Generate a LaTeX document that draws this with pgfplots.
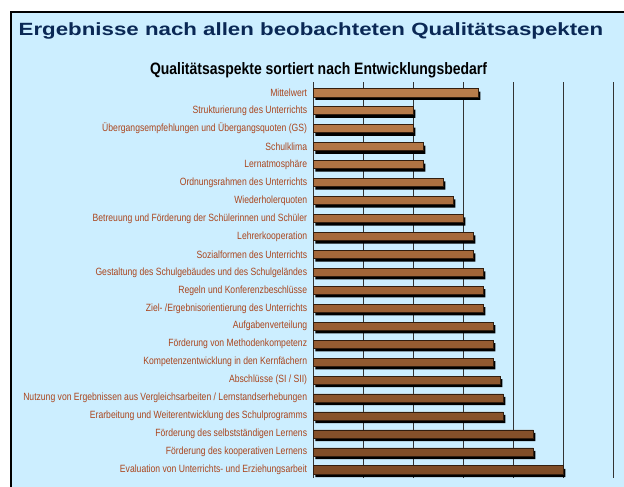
\documentclass[border=0pt]{standalone}
\usepackage{pgfplots}
\pgfplotsset{compat=1.18}
\usepackage{fontspec}
\usepackage{graphicx}
\setmainfont{Liberation Sans}
\newfontfamily\labfont[FakeStretch=0.82]{Liberation Sans}
\definecolor{panel}{RGB}{204,238,255}
\definecolor{labc}{RGB}{170,70,30}
\definecolor{titc}{RGB}{10,40,85}
\definecolor{woodtop}{RGB}{185,125,75}
\definecolor{woodmid}{RGB}{160,100,55}
\definecolor{woodbot}{RGB}{125,75,38}
\definecolor{woodedge}{RGB}{50,30,15}
\begin{document}
\begin{tikzpicture}
\useasboundingbox (0pt,0pt) rectangle (624pt,487pt);
\fill[white] (0pt,0pt) rectangle (624pt,487pt);
\fill[panel] (11pt,0pt) rectangle (624pt,475pt);
\draw[black, line width=2pt] (11pt,0pt) -- (11pt,475pt) -- (625pt,475pt);
\node[anchor=base west, text=titc, font=\bfseries\fontsize{17.7}{20}\selectfont, inner sep=0pt] at (18.5pt,451pt) {\resizebox{584.5pt}{\height}{Ergebnisse nach allen beobachteten Qualitätsaspekten}};
\node[anchor=base, font=\bfseries\fontsize{16.5}{18}\selectfont, inner sep=0pt] at (318.5pt,412.5pt) {\resizebox{337pt}{\height}{Qualitätsaspekte sortiert nach Entwicklungsbedarf}};
\begin{axis}[
  at={(313.3pt,9pt)}, anchor=south west,
  width=300pt, height=396pt, scale only axis,
  xmin=0, xmax=6, ymin=-0.6, ymax=21.45, y dir=reverse,
  xtick={0,1,2,3,4,5,6}, xticklabels={},
  xmajorgrids, major grid style={black!80, line width=0.8pt},
  ytick={0,...,21},
  yticklabels={
    Mittelwert,
    Strukturierung des Unterrichts,
    Übergangsempfehlungen und Übergangsquoten (GS),
    Schulklima,
    Lernatmosphäre,
    Ordnungsrahmen des Unterrichts,
    Wiederholerquoten,
    Betreuung und Förderung der Schülerinnen und Schüler,
    Lehrerkooperation,
    Sozialformen des Unterrichts,
    Gestaltung des Schulgebäudes und des Schulgeländes,
    Regeln und Konferenzbeschlüsse,
    Ziel- /Ergebnisorientierung des Unterrichts,
    Aufgabenverteilung,
    Förderung von Methodenkompetenz,
    Kompetenzentwicklung in den Kernfächern,
    Abschlüsse (SI / SII),
    Nutzung von Ergebnissen aus Vergleichsarbeiten / Lernstandserhebungen,
    {Erarbeitung und Weiterentwicklung des Schulprogramms\hspace{2.5pt}},
    Förderung des selbstständigen Lernens,
    {Förderung des kooperativen Lernens\hspace{2.5pt}},
    Evaluation von Unterrichts- und Erziehungsarbeit
  },
  major tick length=0pt,
  axis line style={draw=none},
  yticklabel style={font=\labfont\fontsize{10.5}{12}\selectfont, text=labc, inner sep=0pt, xshift=-6pt},
  clip=false,
]
\pgfplotstableread{
v y
3.3 0
2.0 1
2.0 2
2.2 3
2.2 4
2.6 5
2.8 6
3.0 7
3.2 8
3.2 9
3.4 10
3.4 11
3.4 12
3.6 13
3.6 14
3.6 15
3.74 16
3.8 17
3.8 18
4.4 19
4.4 20
5.0 21
}\datatab
\addplot[xbar, bar shift=0pt, bar width=8.2pt, fill=black, draw=none, xshift=2pt, yshift=-3pt] table[x=v, y=y] {\datatab};
\addplot[xbar, bar shift=0pt, bar width=8.2pt, draw=woodedge, line width=0.7pt, top color=woodtop, bottom color=woodbot, middle color=woodmid] table[x=v, y=y] {\datatab};
\end{axis}
\end{tikzpicture}
\end{document}
